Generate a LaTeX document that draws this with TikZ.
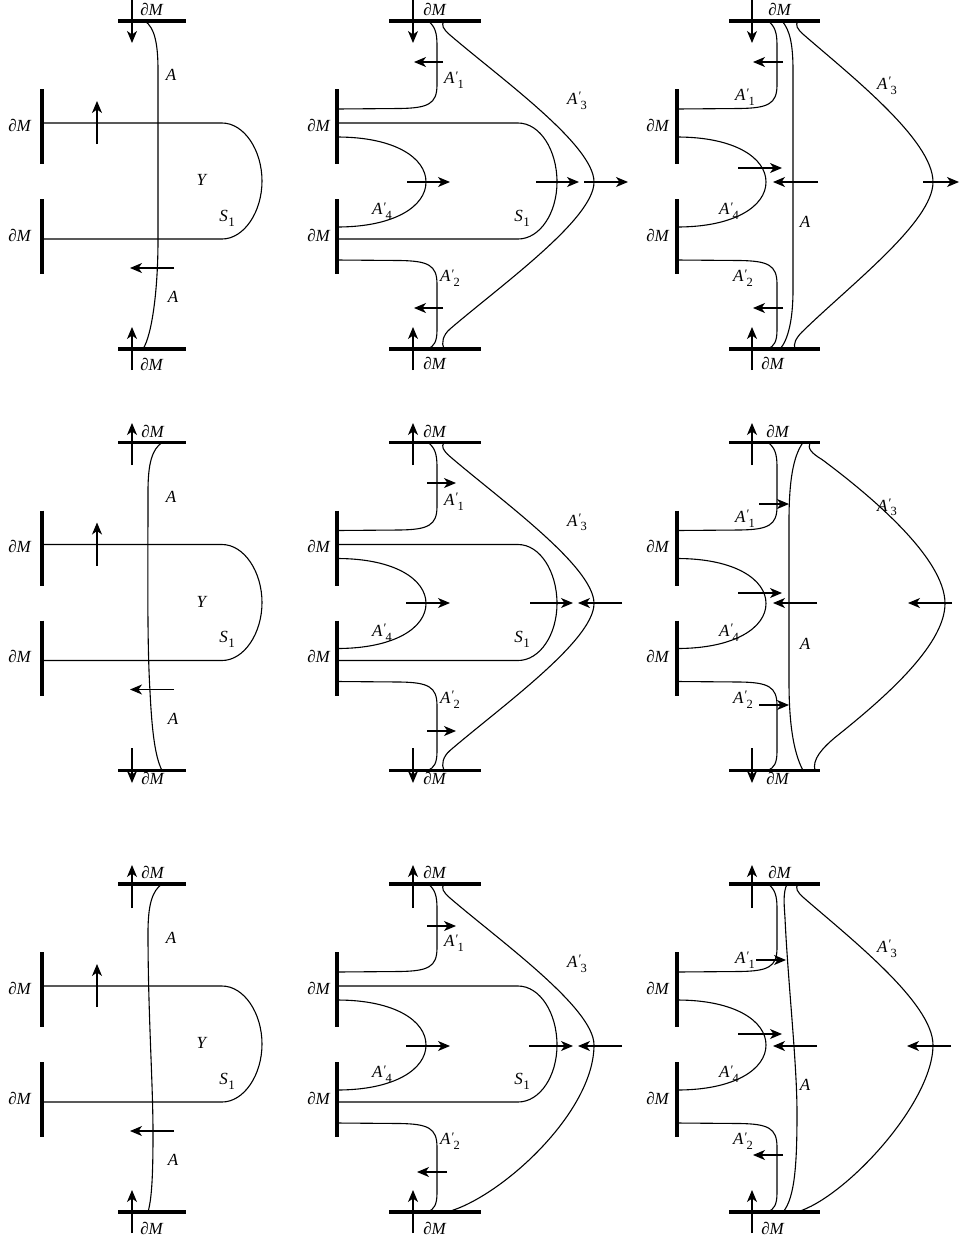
\documentclass[tikz,border=0pt]{standalone}
\usepackage{fontspec}
\setmainfont{Liberation Serif}
\usetikzlibrary{arrows.meta}
\newcommand{\dM}{\textit{∂M}}
\newcommand{\Ap}[1]{\textit{A}\kern0.3pt\raisebox{0.22em}{\fontsize{13}{13}\selectfont\textit{′}}\kern-0.3pt\raisebox{-0.28em}{\fontsize{12.5}{12.5}\selectfont #1}}
\newcommand{\Sone}{\textit{S}\kern0.5pt\raisebox{-0.28em}{\fontsize{13}{13}\selectfont 1}}
\tikzset{
  bar/.style={line width=3.6pt},
  curve/.style={line width=1.1pt},
  flow/.style={line width=1.1pt,-{Stealth[length=12pt,width=10pt,inset=3.5pt]}},
  lbl/.style={font=\fontsize{17}{20}\selectfont, inner sep=0pt}
}
% curves common to column 2 and column 3 (given in column-2 coordinates)
\newcommand{\primecurves}{%
  \draw[curve] (428,21) .. controls (435,26) and (437,33) .. (437,45) -- (437,85)
     .. controls (437,104) and (428,108) .. (400,108.5) -- (337,109);
  \draw[curve] (337,260) -- (400,260.5) .. controls (428,261) and (437,265) .. (437,284)
     -- (437,330) .. controls (437,342) and (434,346) .. (428,349);
  \draw[curve] (337,137) .. controls (395,137) and (426,158) .. (426,182)
     .. controls (426,206) and (395,227) .. (337,227);
  \draw[bar] (337,89) -- (337,164);
  \draw[bar] (337,199) -- (337,274);
}
\newcommand{\rowbase}{%
  % ---- column 1
  \draw[bar] (118,21) -- (186,21);
  \draw[bar] (118,349) -- (186,349);
  \draw[bar] (42,89) -- (42,164);
  \draw[bar] (42,199) -- (42,274);
  \draw[curve] (42,123) -- (222,123) .. controls (244,123) and (262,150) .. (262,181)
     .. controls (262,212) and (244,239) .. (222,239) -- (42,239);
  \node[lbl] (c1dMa) at (20,125) {\dM};
  \node[lbl] (c1dMb) at (20,235) {\dM};
  \node[lbl] (c1Y) at (202,180) {\textit{Y}};
  \node[lbl] (c1S) at (227,218) {\Sone};
  \node[lbl] (c1Aa) at (171,75) {\textit{A}};
  \node[lbl] (c1Ab) at (173,297) {\textit{A}};
  \draw[flow] (97,144) -- (97,101);
  \draw[flow] (174,268) -- (130,268);
  % ---- column 2
  \draw[bar] (389,21) -- (481,21);
  \draw[bar] (389,349) -- (481,349);
  \primecurves
  \draw[curve] (337,123) -- (518,123) .. controls (540,123) and (557,150) .. (557,182)
     .. controls (557,213) and (540,239) .. (518,239) -- (337,239);
  \draw[curve] (444,21) .. controls (441,25) and (443,29) .. (450,35)
     .. controls (500,78) and (594,145) .. (594,182);
  \node[lbl] (c2dMa) at (319,125) {\dM};
  \node[lbl] (c2dMb) at (319,235) {\dM};
  \node[lbl] (c2A4) at (382,211) {\Ap{4}};
  \node[lbl] (c2S) at (522,218) {\Sone};
  \node[lbl] (c2A1) at (454,80) {\Ap{1}};
  \node[lbl] (c2A3) at (577,101) {\Ap{3}};
  \node[lbl] (c2A2) at (450,278) {\Ap{2}};
  % ---- column 3
  \draw[bar] (729,21) -- (820,21);
  \draw[bar] (729,349) -- (820,349);
  \begin{scope}[shift={(340,0)}]\primecurves\end{scope}
  \node[lbl] (c3dMa) at (658,125) {\dM};
  \node[lbl] (c3dMb) at (658,235) {\dM};
  \node[lbl] (c3A4) at (729,211) {\Ap{4}};
  \node[lbl] (c3A1) at (745,97) {\Ap{1}};
  \node[lbl] (c3A2) at (743,278) {\Ap{2}};
  \node[lbl] (c3A) at (805,222) {\textit{A}};
  \node[lbl] (c3A3) at (887,86) {\Ap{3}};
}
\begin{document}
\begin{tikzpicture}[x=1pt,y=-1pt]
\useasboundingbox (0,0) rectangle (960,1243);
\fill[white] (0,0) rectangle (960,1243);

% ================= ROW 1
\begin{scope}[name prefix=r1-]
  \rowbase
  % column 1
  \draw[curve] (145,21) .. controls (155,28) and (158,45) .. (158,70) -- (158,240)
     .. controls (158,290) and (152,335) .. (143,349);
  \draw[flow] (132,0) -- (132,43);
  \draw[flow] (132,370) -- (132,327);
  \node[lbl] (c1t) at (152,9) {\dM};
  \node[lbl] (c1b) at (152,364) {\dM};
  % column 2
  \draw[curve] (594,182) .. controls (594,219) and (500,286) .. (450,329)
     .. controls (443,335) and (441,343) .. (444,349);
  \draw[flow] (413,0) -- (413,43);
  \draw[flow] (413,370) -- (413,327);
  \draw[flow] (443,62) -- (414,62);
  \draw[flow] (443,308) -- (414,308);
  \draw[flow] (407,182) -- (450,182);
  \draw[flow] (536,182) -- (579,182);
  \draw[flow] (584,182) -- (628,182);
  \node[lbl] (c2t) at (435,9) {\dM};
  \node[lbl] (c2b) at (435,363) {\dM};
  % column 3
  \draw[curve] (782,21) .. controls (790,30) and (793,45) .. (793,70) -- (793,290)
     .. controls (793,320) and (788,340) .. (780,349);
  \draw[curve] (798,21) .. controls (795,25) and (797,29) .. (804,35)
     .. controls (850,75) and (933,140) .. (933,182)
     .. controls (933,222) and (850,285) .. (802,332)
     .. controls (796,338) and (793,344) .. (795,349);
  \draw[flow] (752,0) -- (752,43);
  \draw[flow] (752,370) -- (752,327);
  \draw[flow] (783,62) -- (753,62);
  \draw[flow] (783,308) -- (753,308);
  \draw[flow] (738,168) -- (782,168);
  \draw[flow] (818,182) -- (773,182);
  \draw[flow] (923,182) -- (959,182);
  \node[lbl] (c3t) at (780,9) {\dM};
  \node[lbl] (c3b) at (773,363) {\dM};
\end{scope}

% ================= ROW 2
\begin{scope}[shift={(0,421.5)},name prefix=r2-]
  \rowbase
  % column 1
  \draw[curve] (162,21) .. controls (152,28) and (148,42) .. (148,70)
     .. controls (148,150) and (147,220) .. (150,270)
     .. controls (152,310) and (155,335) .. (162,349);
  \draw[flow] (132,43.5) -- (132,1.5);
  \draw[flow] (132,326.5) -- (132,361.5);
  \node[lbl] (c1t) at (153,9.5) {\dM};
  \node[lbl] (c1b) at (153,357) {\dM};
  % column 2
  \draw[curve] (594,182) .. controls (594,219) and (500,286) .. (450,329)
     .. controls (443,335) and (441,343) .. (444,349);
  \draw[flow] (413,43.5) -- (413,1.5);
  \draw[flow] (413,326.5) -- (413,361.5);
  \draw[flow] (427,61.5) -- (456,61.5);
  \draw[flow] (427,309.5) -- (456,309.5);
  \draw[flow] (406,181.5) -- (450,181.5);
  \draw[flow] (530,181.5) -- (573,181.5);
  \draw[flow] (622,181.5) -- (578,181.5);
  \node[lbl] (c2t) at (435,9.5) {\dM};
  \node[lbl] (c2b) at (435,357) {\dM};
  % column 3
  \draw[curve] (803,21) .. controls (793,35) and (789,60) .. (789,100) -- (789,260)
     .. controls (789,300) and (793,330) .. (803,349);
  \draw[curve] (810,21) .. controls (807,27) and (812,32) .. (822,38)
     .. controls (865,70) and (945,135) .. (945,182)
     .. controls (945,225) and (880,280) .. (835,316)
     .. controls (822,327) and (812,338) .. (815,349);
  \draw[flow] (752,43.5) -- (752,1.5);
  \draw[flow] (752,326.5) -- (752,361.5);
  \draw[flow] (759,82.5) -- (789,82.5);
  \draw[flow] (759,283.5) -- (789,283.5);
  \draw[flow] (738,171.5) -- (782,171.5);
  \draw[flow] (817,181.5) -- (773,181.5);
  \draw[flow] (952,181.5) -- (908,181.5);
  \node[lbl] (c3t) at (778,9.5) {\dM};
  \node[lbl] (c3b) at (778,357) {\dM};
\end{scope}

% ================= ROW 3
\begin{scope}[shift={(0,863)},name prefix=r3-]
  \rowbase
  % column 1
  \draw[curve] (162,21) .. controls (152,28) and (148,42) .. (148,70)
     .. controls (148,150) and (153,220) .. (153,270)
     .. controls (153,310) and (152,335) .. (148,349);
  \draw[flow] (132,45) -- (132,2);
  \draw[flow] (132,370) -- (132,327);
  \node[lbl] (c1t) at (153,9) {\dM};
  \node[lbl] (c1b) at (152,365) {\dM};
  % column 2
  \draw[curve] (594,182) .. controls (594,250) and (500,335) .. (447,349);
  \draw[flow] (413,45) -- (413,2);
  \draw[flow] (413,370) -- (413,327);
  \draw[flow] (427,63) -- (456,63);
  \draw[flow] (447,309) -- (417,309);
  \draw[flow] (406,183) -- (450,183);
  \draw[flow] (529,183) -- (573,183);
  \draw[flow] (622,183) -- (578,183);
  \node[lbl] (c2t) at (435,9) {\dM};
  \node[lbl] (c2b) at (435,365) {\dM};
  % column 3
  \draw[curve] (787,21) .. controls (783,30) and (784,40) .. (785,55)
     .. controls (788,120) and (797,200) .. (797,250)
     .. controls (797,300) and (795,335) .. (783,349);
  \draw[curve] (798,21) .. controls (795,25) and (797,29) .. (804,35)
     .. controls (850,75) and (933,140) .. (933,182)
     .. controls (933,240) and (845,335) .. (797,349);
  \draw[flow] (752,45) -- (752,2);
  \draw[flow] (752,370) -- (752,327);
  \draw[flow] (756,97) -- (786,97);
  \draw[flow] (738,171) -- (782,171);
  \draw[flow] (817,183) -- (773,183);
  \draw[flow] (951,183) -- (907,183);
  \draw[flow] (783,292) -- (753,292);
  \node[lbl] (c3t) at (780,9) {\dM};
  \node[lbl] (c3b) at (773,365) {\dM};
\end{scope}
\end{tikzpicture}
\end{document}
